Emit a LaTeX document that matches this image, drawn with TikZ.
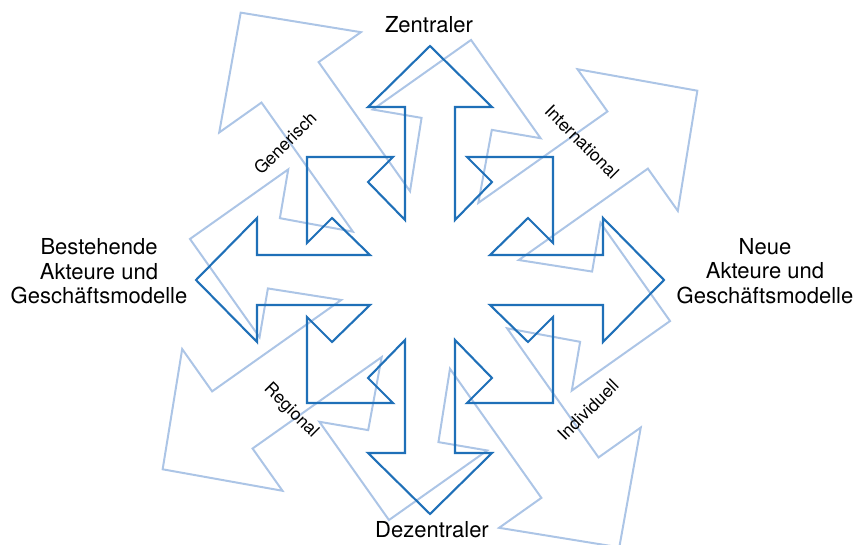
\documentclass[tikz,border=0pt]{standalone}
\usepackage{fontspec}
\setmainfont{TeX Gyre Heros}
\definecolor{darkblue}{RGB}{31,112,184}
\definecolor{lightblue}{RGB}{172,197,230}
\begin{document}
\begin{tikzpicture}[x=1pt,y=1pt,
  darkstar/.style={draw=darkblue, line width=2.1pt, line join=miter},
  lightstar/.style={draw=lightblue, line width=2pt, line join=miter},
  biglabel/.style={font=\fontsize{22}{24.5}\selectfont, align=center, inner sep=0pt},
  diaglabel/.style={font=\fontsize{17.5}{20}\selectfont, inner sep=0pt}]
\useasboundingbox (0,0) rectangle (854,544);
\coordinate (c) at (430,264);
% eight-way arrow outline, one quadrant after another (tip, head, shaft, notched corner)
\def\starpath{(0,234) -- (-62,173) -- (-25,173) -- (-25,60) -- (-62,98) -- (-37,123)
  -- (-123,123) -- (-123,37) -- (-98,62) -- (-60,25) -- (-173,25) -- (-173,62)
  -- (-234,0) -- (-173,-62) -- (-173,-25) -- (-60,-25) -- (-98,-62) -- (-123,-37)
  -- (-123,-123) -- (-37,-123) -- (-62,-98) -- (-25,-60) -- (-25,-173) -- (-62,-173)
  -- (0,-234) -- (62,-173) -- (25,-173) -- (25,-60) -- (62,-98) -- (37,-123)
  -- (123,-123) -- (123,-37) -- (98,-62) -- (60,-25) -- (173,-25) -- (173,-62)
  -- (234,0) -- (173,62) -- (173,25) -- (60,25) -- (98,62) -- (123,37)
  -- (123,123) -- (37,123) -- (62,98) -- (25,60) -- (25,173) -- (62,173) -- cycle}
% large turned copy behind
\draw[lightstar, shift={(c)}, rotate=35.3, scale=1.4] \starpath;
% main outline
\draw[darkstar, shift={(c)}] \starpath;
% axis labels
\node[biglabel, anchor=base] (top) at (429,511) {Zentraler};
\node[biglabel, anchor=base] (bottom) at (432,7) {Dezentraler};
\node[biglabel] (left) at (99,272.5) {Bestehende\\Akteure und\\Geschäftsmodelle};
\node[biglabel] (right) at (765,273) {Neue\\Akteure und\\Geschäftsmodelle};
% diagonal labels
\node[diaglabel, rotate=45] (ul) at (285,401) {Generisch};
\node[diaglabel, rotate=-45] (ur) at (582,402) {International};
\node[diaglabel, rotate=-45] (ll) at (291,133) {Regional};
\node[diaglabel, rotate=45] (lr) at (588,134) {Individuell};
\end{tikzpicture}
\end{document}
